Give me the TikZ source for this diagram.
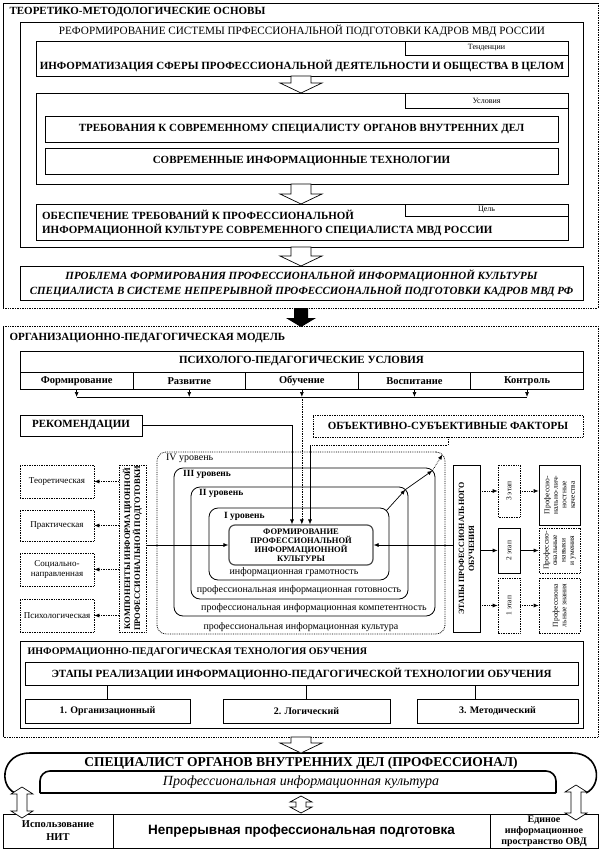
\documentclass[tikz,border=0pt]{standalone}
\usepackage{fontspec}
\setmainfont{Liberation Serif}
\setsansfont{Liberation Sans}
\usetikzlibrary{arrows.meta,positioning}
\tikzset{
  bx/.style={draw,rectangle,fill=white,inner sep=1pt,line width=0.7pt},
  dbx/.style={bx,densely dotted},
  tabx/.style={draw,rectangle,fill=white,inner sep=0pt,line width=0.7pt,font=\fontsize{8}{9}\selectfont},
  capb/.style={font=\bfseries\fontsize{11}{14}\selectfont},
  capm/.style={font=\bfseries\fontsize{10}{12}\selectfont},
  lab/.style={font=\fontsize{10}{11}\selectfont},
  labb/.style={font=\bfseries\fontsize{9.5}{11}\selectfont},
  tiny/.style={font=\fontsize{7.5}{8.5}\selectfont},
  lvl/.style={draw,rectangle,rounded corners=9pt,line width=0.8pt,inner sep=0pt},
  con/.style={line width=0.7pt,-{Latex[length=5pt,width=4pt]}},
  dcon/.style={con,densely dotted},
  pics/harrow/.style={code={\draw[line width=0.7pt,fill=white] (-10,0) -- (-10,{10-#1}) -- (-21,{10-#1}) -- (0,-#1) -- (21,{10-#1}) -- (10,{10-#1}) -- (10,0) -- cycle;}},
  pics/barrow/.style={code={\fill (-7,0) -- (-7,{9-#1}) -- (-15,{9-#1}) -- (0,-#1) -- (15,{9-#1}) -- (7,{9-#1}) -- (7,0) -- cycle;}},
  pics/darrow/.style 2 args={code={\draw[line width=0.7pt,fill=white] (0,0) -- (11,-#2) -- (5,-#2) -- (5,{#2-#1}) -- (11,{#2-#1}) -- (0,-#1) -- (-11,{#2-#1}) -- (-5,{#2-#1}) -- (-5,-#2) -- (-11,-#2) -- cycle;}},
}
\begin{document}
\begin{tikzpicture}[x=1pt,y=1pt]
  \useasboundingbox (0,0) rectangle (601,-849);
  \draw[line width=0.7pt] (3,-308) -- (3,-3) -- (598,-3);
  \draw[line width=0.7pt,densely dotted] (598,-3) -- (598,-308) -- (3,-308);
  \node[capb,anchor=west] (t1) at (6,-12) {ТЕОРЕТИКО-МЕТОДОЛОГИЧЕСКИЕ ОСНОВЫ};
  \draw[line width=0.7pt] (20,-22) rectangle (583,-247);
  \node[font=\fontsize{11.2}{13}\selectfont] (reform) at (302,-31) {РЕФОРМИРОВАНИЕ СИСТЕМЫ ПРФЕССИОНАЛЬНОЙ ПОДГОТОВКИ КАДРОВ МВД РОССИИ};
  \node[bx,minimum width=532,minimum height=35] (tend) at (302,-58.5) {};
  \node[tabx,anchor=north east,minimum width=163,minimum height=14] (tendtab) at (tend.north east) {Тенденции};
  \node[capb] (tendtxt) at ([yshift=-7]tend.center) {ИНФОРМАТИЗАЦИЯ СФЕРЫ ПРОФЕССИОНАЛЬНОЙ ДЕЯТЕЛЬНОСТИ И ОБЩЕСТВА В ЦЕЛОМ};
  \node[bx,minimum width=532,minimum height=91] (usl) at (302,-138.5) {};
  \node[tabx,anchor=north east,minimum width=163,minimum height=15] (usltab) at (usl.north east) {Условия};
  \node[bx,capb,minimum width=513,minimum height=26] (req) at (301.5,-129) {ТРЕБОВАНИЯ К СОВРЕМЕННОМУ СПЕЦИАЛИСТУ ОРГАНОВ ВНУТРЕННИХ ДЕЛ};
  \node[bx,capb,minimum width=513,minimum height=26] (itech) at (301.5,-161) {СОВРЕМЕННЫЕ ИНФОРМАЦИОННЫЕ ТЕХНОЛОГИИ};
  \node[bx,minimum width=532,minimum height=36] (goal) at (302,-222) {};
  \node[tabx,anchor=north east,minimum width=163,minimum height=12] (goaltab) at (goal.north east) {Цель};
  \node[capb,anchor=west,align=left] (goaltxt) at ([xshift=3,yshift=-1]goal.west) {ОБЕСПЕЧЕНИЕ ТРЕБОВАНИЙ К ПРОФЕССИОНАЛЬНОЙ\\ИНФОРМАЦИОННОЙ КУЛЬТУРЕ СОВРЕМЕННОГО СПЕЦИАЛИСТА МВД РОССИИ};
  \node[bx,minimum width=563,minimum height=34,font=\bfseries\itshape\fontsize{11}{15}\selectfont,align=center] (prob) at (301.5,-283) {ПРОБЛЕМА ФОРМИРОВАНИЯ ПРОФЕССИОНАЛЬНОЙ ИНФОРМАЦИОННОЙ КУЛЬТУРЫ\\СПЕЦИАЛИСТА В СИСТЕМЕ НЕПРЕРЫВНОЙ ПРОФЕССИОНАЛЬНОЙ ПОДГОТОВКИ КАДРОВ МВД РФ};
  \pic at (301,-76) {harrow=17};
  \pic at (301,-184) {harrow=20};
  \pic at (301,-247) {harrow=19};
  \draw[line width=0.7pt] (3,-326) -- (3,-737);
  \draw[line width=0.7pt,densely dotted] (3,-326) -- (598,-326) -- (598,-737) -- (3,-737);
  \pic at (301,-308) {barrow=19};
  \node[capb,anchor=west] (t2) at (6,-338) {ОРГАНИЗАЦИОННО-ПЕДАГОГИЧЕСКАЯ МОДЕЛЬ};
  \node[bx,capb,minimum width=563,minimum height=21] (psy) at (301.5,-361.5) {ПСИХОЛОГО-ПЕДАГОГИЧЕСКИЕ УСЛОВИЯ};
  \foreach \t [count=\i] in {Формирование,Развитие,Обучение,Воспитание,Контроль}
    \node[bx,capm,font=\bfseries\fontsize{10.5}{12}\selectfont,minimum width=112.6,minimum height=17,anchor=north west] (c\i) at ({20+112.6*(\i-1)},-372) {\t};
  \coordinate (bus) at (0,-397);
  \foreach \i in {1,2,4,5}
    \draw[con] (c\i.south) -- (c\i.south |- bus);
  \draw[dcon] (c3.south) -- (c3.south |- bus);
  \draw[line width=0.7pt] (c1.south |- bus) -- (c5.south |- bus);
  \node[bx,capb,minimum width=122,minimum height=21] (rec) at (81,-425.5) {РЕКОМЕНДАЦИИ};
  \node[dbx,capb,minimum width=270,minimum height=22] (obj) at (448,-426) {ОБЪЕКТИВНО-СУБЪЕКТИВНЫЕ ФАКТОРЫ};
  \node[lvl,densely dotted,minimum width=288,minimum height=182] (lv4) at (301,-543) {};
  \node[lvl,minimum width=261,minimum height=148] (lv3) at (304.5,-542) {};
  \node[lvl,minimum width=217,minimum height=112] (lv2) at (299.5,-543) {};
  \node[lvl,minimum width=180,minimum height=72] (lv1) at (299,-544) {};
  \node[lvl,rounded corners=6pt,line width=1.2pt,draw=black!70,minimum width=144,minimum height=40,align=center,font=\bfseries\fontsize{8.5}{9}\selectfont] (form) at (301,-545) {ФОРМИРОВАНИЕ\\ПРОФЕССИОНАЛЬНОЙ\\ИНФОРМАЦИОННОЙ\\КУЛЬТУРЫ};
  \node[lab,anchor=west] (lv4lab) at ([xshift=6,yshift=-7]lv4.north west) {IV уровень};
  \node[labb,anchor=west] (lv3lab) at ([xshift=6,yshift=-7]lv3.north west) {III уровень};
  \node[labb,anchor=west] (lv2lab) at ([xshift=5,yshift=-7]lv2.north west) {II уровень};
  \node[labb,anchor=west] (lv1lab) at ([xshift=12,yshift=-9]lv1.north west) {I уровень};
  \node[lab] (lv1b) at (294,-572.5) {информационная грамотность};
  \node[lab] (lv2b) at (299,-590) {профессиональная информационная готовность};
  \node[lab] (lv3b) at (314,-608) {профессиональная информационная компетентность};
  \node[lab] (lv4b) at (301,-627) {профессиональная информационная культура};
  \draw[con] (rec.east) -| ([xshift=-9]form.north);
  \draw[dcon] (c3.south |- bus) -- (c3.south |- form.north);
  \coordinate (objk) at (310,-445);
  \draw[line width=0.7pt,densely dotted] (obj.south) |- (objk);
  \draw[con] (objk) -- (objk |- form.north);
  \draw[con] ([shift={(-3,-3)}]lv1.north east) -- ([shift={(-3,-3)}]lv2.north east);
  \draw[con] ([shift={(-3,-3)}]lv2.north east) -- ([shift={(-3,-3)}]lv3.north east);
  \draw[dcon] ([shift={(-3,-3)}]lv3.north east) -- ([shift={(-3,-3)}]lv4.north east);
  \node[dbx,rotate=90,minimum width=167,minimum height=27,align=center,font=\bfseries\fontsize{8.5}{10}\selectfont] (comp) at (132.5,-548.5) {КОМПОНЕНТЫ ИНФОРМАЦИОННОЙ\\ПРОФЕССИОНАЛЬНОЙ ПОДГОТОВКИ};
  \node[dbx,font=\fontsize{9}{10}\selectfont,minimum width=74,minimum height=33,align=center] (th) at (57,-481.5) {Теоретическая};
  \node[dbx,font=\fontsize{9}{10}\selectfont,minimum width=74,minimum height=31,align=center] (pr) at (57,-525.5) {Практическая};
  \node[dbx,font=\fontsize{9}{10}\selectfont,minimum width=74,minimum height=33,align=center] (so) at (57,-569.5) {Социально-\\направленная};
  \node[dbx,font=\fontsize{9}{10}\selectfont,minimum width=74,minimum height=33,align=center] (ps) at (57,-615.5) {Психологическая};
  \foreach \b in {th,pr,so,ps}
    \draw[dcon] (comp.north |- \b) -- (\b.east);
  \draw[con] (comp.south |- form) -- (form.west);
  \node[bx,rotate=90,minimum width=167,minimum height=27,align=center,font=\bfseries\fontsize{8}{10}\selectfont] (etap) at (466.5,-548.5) {ЭТАПЫ ПРОФЕССИОНАЛЬНОГО\\ОБУЧЕНИЯ};
  \draw[con] (etap.north |- form) -- (form.east);
  \node[dbx,tiny,rotate=90,minimum width=52,minimum height=22] (s3) at (509,-491) {3 этап};
  \node[bx,tiny,rotate=90,minimum width=45,minimum height=22] (s2) at (509,-550.5) {2 этап};
  \node[dbx,tiny,rotate=90,minimum width=55,minimum height=22] (s1) at (509,-605.5) {1 этап};
  \node[bx,tiny,rotate=90,minimum width=60,minimum height=41,align=center] (r3) at (559.5,-495) {Профессио-\\нально-лич-\\ностные\\качества};
  \node[dbx,tiny,rotate=90,minimum width=45,minimum height=41,align=center] (r2) at (559.5,-550.5) {Профессио-\\ональные\\навыки\\и умения};
  \node[dbx,tiny,rotate=90,minimum width=55,minimum height=41,align=center] (r1) at (559.5,-605.5) {Профессиона\\льные знания};
  \draw[dcon] (etap.south |- s3) -- (s3.north);
  \draw[con] (etap.south |- s2) -- (s2.north);
  \draw[dcon] (etap.south |- s1) -- (s1.north);
  \draw[dcon] (s3.south) -- (s3.south -| r3.north);
  \draw[con] (s2.south) -- (s2.south -| r2.north);
  \draw[dcon] (s1.south) -- (s1.south -| r1.north);
  \draw[line width=0.7pt] (20,-641) rectangle (583,-728);
  \node[capm,anchor=west] (t3) at (24,-652) {ИНФОРМАЦИОННО-ПЕДАГОГИЧЕСКАЯ ТЕХНОЛОГИЯ ОБУЧЕНИЯ};
  \node[bx,capb,minimum width=553,minimum height=23] (stg) at (301.5,-673.5) {ЭТАПЫ РЕАЛИЗАЦИИ ИНФОРМАЦИОННО-ПЕДАГОГИЧЕСКОЙ ТЕХНОЛОГИИ ОБУЧЕНИЯ};
  \node[bx,capm,minimum width=165,minimum height=24] (o1) at (107.5,-711) {1. Организационный};
  \node[bx,capm,minimum width=167,minimum height=24] (o2) at (306.5,-711) {2. Логический};
  \node[bx,capm,minimum width=161,minimum height=24] (o3) at (497.5,-711) {3. Методический};
  \draw[line width=0.7pt] (o1.north) -- (o1.north |- stg.south);
  \draw[line width=0.7pt] (o2.north) -- (o2.north |- stg.south);
  \draw[line width=0.7pt] ([xshift=-22]o3.north) -- ([xshift=-22]o3.north |- stg.south);
  \draw[line width=1.6pt] (15,-793) .. controls (-2,-785) and (2,-753) .. (30,-753) -- (572,-753) .. controls (600,-753) and (603,-785) .. (586,-793);
  \pic at (301,-737) {harrow=16};
  \node[font=\bfseries\fontsize{13.5}{15}\selectfont] (spec) at (301,-763) {СПЕЦИАЛИСТ ОРГАНОВ ВНУТРЕННИХ ДЕЛ (ПРОФЕССИОНАЛ)};
  \draw[line width=1.6pt,rounded corners=10pt] (40,-793) -- (40,-771) -- (556,-771) -- (556,-793);
  \draw[line width=1.6pt] (40,-793) -- (556,-793);
  \node[font=\itshape\fontsize{14}{15}\selectfont] (pic) at (301,-782) {Профессиональная информационная культура};
  \node[bx,minimum width=110,minimum height=34,align=center,font=\bfseries\fontsize{10.5}{13}\selectfont] (nit) at (58,-831) {Использование\\НИТ};
  \node[bx,minimum width=377,minimum height=34,font=\sffamily\bfseries\fontsize{13.5}{15}\selectfont] (npp) at (301.5,-831) {Непрерывная профессиональная подготовка};
  \node[bx,minimum width=108,minimum height=34,inner sep=0pt,align=center,font=\bfseries\fontsize{10}{11}\selectfont] (evd) at (544,-831) {Единое\\информационное\\пространство ОВД};
  \pic at (301,-796) {darrow={17}{6}};
  \pic at (22,-787) {darrow={31}{7}};
  \pic at (576,-785) {darrow={35}{7}};
\end{tikzpicture}
\end{document}
